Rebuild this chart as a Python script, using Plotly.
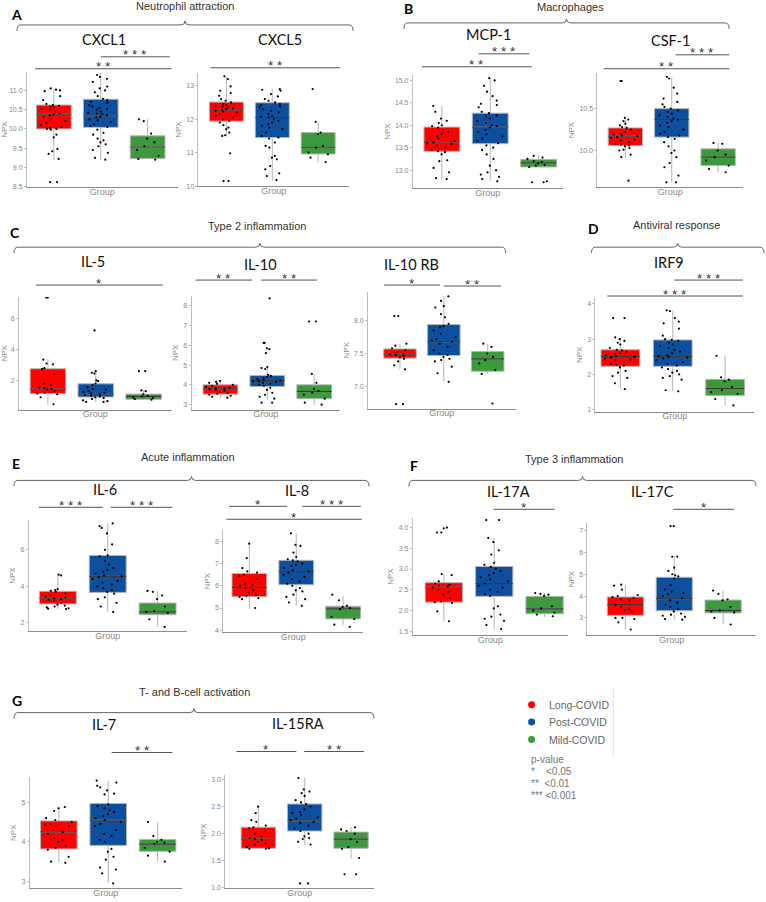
import plotly.graph_objects as go

W, H = 766, 902
GROUPS = ["Long-COVID", "Post-COVID", "Mild-COVID"]
COLORS = ["#FF0000", "#0B4F9E", "#3C9A3C"]

# ---------------- data: individual NPX values ----------------
CXCL1_long = [11.05, 11.02, 11.0, 10.98, 10.85, 10.75, 10.65, 10.62, 10.6, 10.58, 10.55, 10.52, 10.5, 10.45, 10.4, 10.38, 10.35, 10.3, 10.25, 10.2, 10.15, 10.1, 10.05, 10.02, 10.0, 10.0, 9.98, 9.85, 9.78, 9.48, 9.42, 9.35, 9.22, 8.62, 8.62]
CXCL1_post = [11.4, 11.35, 11.3, 11.22, 11.1, 11.05, 11.0, 10.95, 10.85, 10.78, 10.75, 10.7, 10.68, 10.62, 10.58, 10.55, 10.52, 10.5, 10.45, 10.42, 10.4, 10.38, 10.35, 10.32, 10.3, 10.25, 10.22, 10.18, 10.12, 10.08, 10.05, 9.98, 9.9, 9.85, 9.75, 9.7, 9.65, 9.6, 9.55, 9.45, 9.38, 9.25, 9.2]
CXCL1_mild = [10.25, 10.2, 9.88, 9.75, 9.65, 9.55, 9.45, 9.3, 9.22, 9.2]

CXCL5_long = [13.28, 13.2, 12.98, 12.85, 12.78, 12.7, 12.6, 12.55, 12.5, 12.45, 12.42, 12.4, 12.38, 12.35, 12.32, 12.3, 12.28, 12.25, 12.22, 12.2, 12.15, 12.1, 12.05, 12.0, 11.95, 11.9, 11.82, 11.75, 11.7, 11.6, 11.52, 11.5, 10.98, 10.15, 10.15]
CXCL5_post = [12.9, 12.88, 12.85, 12.75, 12.68, 12.6, 12.55, 12.5, 12.45, 12.42, 12.38, 12.35, 12.3, 12.25, 12.2, 12.15, 12.1, 12.08, 12.05, 12.0, 11.95, 11.9, 11.85, 11.8, 11.75, 11.7, 11.6, 11.5, 11.45, 11.42, 11.3, 11.2, 11.15, 10.9, 10.85, 10.8, 10.6, 10.5, 10.38, 10.3, 10.18]
CXCL5_mild = [12.9, 11.92, 11.6, 11.55, 11.2, 11.15, 11.0, 10.95, 10.85, 10.72]

MCP1_long = [14.43, 14.3, 14.15, 14.1, 14.05, 14.0, 13.98, 13.95, 13.9, 13.85, 13.8, 13.75, 13.72, 13.7, 13.65, 13.62, 13.6, 13.58, 13.55, 13.5, 13.45, 13.42, 13.4, 13.35, 13.22, 13.2, 13.05, 12.95, 12.82, 12.8]
MCP1_post = [15.05, 15.0, 14.88, 14.75, 14.65, 14.55, 14.48, 14.45, 14.4, 14.3, 14.27, 14.22, 14.2, 14.15, 14.1, 14.05, 14.0, 13.98, 13.95, 13.9, 13.85, 13.8, 13.75, 13.7, 13.65, 13.6, 13.55, 13.5, 13.45, 13.35, 13.25, 13.1, 13.0, 12.95, 12.9, 12.85, 12.8, 12.75]
MCP1_mild = [13.32, 13.28, 13.25, 13.2, 13.18, 13.15, 13.12, 13.1, 13.07, 12.73, 12.73, 12.75]

CSF1_long = [10.83, 10.83, 10.39, 10.37, 10.35, 10.32, 10.3, 10.28, 10.27, 10.25, 10.22, 10.2, 10.19, 10.18, 10.17, 10.16, 10.15, 10.13, 10.12, 10.1, 10.08, 10.07, 10.06, 10.05, 10.03, 10.01, 10.0, 9.95, 9.92, 9.64]
CSF1_post = [10.88, 10.86, 10.75, 10.68, 10.62, 10.58, 10.55, 10.52, 10.5, 10.48, 10.46, 10.44, 10.42, 10.4, 10.38, 10.37, 10.35, 10.33, 10.3, 10.28, 10.25, 10.22, 10.2, 10.18, 10.16, 10.14, 10.1, 10.05, 10.0, 9.97, 9.92, 9.85, 9.8, 9.7, 9.62, 9.62]
CSF1_mild = [10.09, 10.08, 10.0, 9.95, 9.92, 9.88, 9.82, 9.78, 9.74]

IL5_long = [7.4, 7.4, 3.35, 3.1, 3.05, 2.8, 2.75, 2.4, 1.8, 1.7, 1.55, 1.5, 1.45, 1.4, 1.3, 1.2, 1.15, 1.1, 0.9, 0.45]
IL5_post = [5.25, 2.6, 2.5, 2.45, 2.0, 1.95, 1.8, 1.7, 1.55, 1.45, 1.4, 1.3, 1.25, 1.2, 1.15, 1.1, 1.05, 1.0, 0.95, 0.9, 0.85, 0.8, 0.7, 0.65, 0.6, 0.6]
IL5_mild = [2.6, 2.6, 1.35, 1.3, 1.1, 1.0, 0.95, 0.9, 0.85, 0.8, 0.75]

IL10_long = [4.2, 4.15, 4.1, 4.05, 4.0, 3.95, 3.9, 3.85, 3.82, 3.8, 3.78, 3.75, 3.7, 3.65, 3.6, 3.55, 3.5, 3.45, 3.4, 3.35]
IL10_post = [8.37, 6.12, 6.12, 5.85, 5.8, 5.6, 4.9, 4.85, 4.8, 4.5, 4.45, 4.4, 4.35, 4.3, 4.25, 4.22, 4.2, 4.18, 4.15, 4.1, 4.05, 4.0, 3.95, 3.85, 3.75, 3.6, 3.5, 3.4, 3.3, 3.1, 3.1]
IL10_mild = [7.2, 7.2, 4.55, 4.1, 3.8, 3.7, 3.6, 3.5, 3.3, 3.1, 3.0]

IL10RB_long = [8.07, 8.07, 7.65, 7.62, 7.58, 7.55, 7.52, 7.5, 7.49, 7.48, 7.46, 7.44, 7.42, 7.38, 7.32, 7.26, 6.73, 6.73]
IL10RB_post = [8.37, 8.3, 8.22, 8.2, 8.1, 8.05, 7.95, 7.92, 7.9, 7.85, 7.8, 7.75, 7.72, 7.7, 7.68, 7.65, 7.6, 7.55, 7.5, 7.48, 7.45, 7.42, 7.4, 7.38, 7.3, 7.2, 7.07]
IL10RB_mild = [7.65, 7.6, 7.5, 7.45, 7.4, 7.35, 7.25, 7.19, 6.74]

IRF9_long = [3.6, 3.6, 3.05, 3.0, 2.95, 2.9, 2.85, 2.75, 2.7, 2.68, 2.65, 2.6, 2.58, 2.55, 2.52, 2.5, 2.48, 2.45, 2.42, 2.4, 2.35, 2.3, 2.28, 2.25, 2.2, 2.1, 2.05, 1.95, 1.9, 1.75, 1.58]
IRF9_post = [3.82, 3.8, 3.6, 3.5, 3.45, 3.3, 3.1, 3.0, 2.98, 2.95, 2.9, 2.85, 2.8, 2.75, 2.7, 2.65, 2.6, 2.55, 2.52, 2.5, 2.48, 2.45, 2.4, 2.35, 2.3, 2.25, 2.2, 2.15, 2.1, 2.05, 2.0, 1.95, 1.9, 1.85, 1.52, 1.55]
IRF9_mild = [2.53, 1.92, 1.85, 1.8, 1.65, 1.55, 1.5, 1.45, 1.3, 1.12]

IL6_long = [4.64, 4.6, 3.85, 3.8, 3.75, 3.7, 3.6, 3.5, 3.45, 3.4, 3.35, 3.3, 3.25, 3.2, 3.1, 3.0, 2.95, 2.9, 2.85, 2.8, 2.78, 2.76]
IL6_post = [7.45, 7.3, 7.2, 6.9, 6.3, 6.0, 5.7, 5.65, 5.4, 5.2, 5.0, 4.9, 4.8, 4.7, 4.6, 4.55, 4.5, 4.4, 4.3, 4.2, 4.1, 4.0, 3.9, 3.8, 3.7, 3.6, 3.4, 3.3, 3.1, 2.9, 2.6]
IL6_mild = [3.75, 3.7, 3.5, 3.3, 2.9, 2.65, 2.6, 2.55, 2.2, 1.78]

IL8_long = [7.9, 7.25, 6.8, 6.65, 6.6, 6.5, 6.45, 6.3, 6.1, 6.05, 6.0, 5.9, 5.8, 5.7, 5.6, 5.55, 5.5, 5.45, 5.4, 5.0]
IL8_post = [8.37, 7.85, 7.8, 7.5, 7.3, 7.2, 7.15, 7.1, 7.0, 6.95, 6.9, 6.8, 6.7, 6.65, 6.6, 6.5, 6.4, 6.3, 6.2, 6.1, 6.0, 5.9, 5.8, 5.75, 5.6, 5.5, 5.4, 5.25, 5.1]
IL8_mild = [5.6, 5.35, 5.1, 5.05, 5.0, 4.95, 4.6, 4.5, 4.25, 4.15]

IL17A_long = [4.0, 3.98, 3.88, 3.88, 2.88, 2.85, 2.7, 2.65, 2.62, 2.6, 2.58, 2.55, 2.5, 2.45, 2.38, 2.3, 2.22, 2.2, 2.18, 1.98, 1.74]
IL17A_post = [4.18, 4.18, 3.75, 3.65, 3.45, 3.35, 3.15, 3.1, 3.05, 3.0, 2.95, 2.9, 2.85, 2.8, 2.75, 2.7, 2.65, 2.6, 2.55, 2.5, 2.45, 2.4, 2.35, 2.1, 2.05, 1.9, 1.85, 1.8, 1.75, 1.65, 1.55]
IL17A_mild = [2.42, 2.4, 2.38, 2.35, 2.1, 2.05, 2.0, 1.95, 1.9, 1.86]

IL17C_long = [4.52, 4.48, 4.3, 4.05, 4.0, 3.95, 3.9, 3.85, 3.8, 3.6, 3.5, 3.4, 3.35, 3.3, 3.0, 3.0, 2.95, 2.8, 2.47]
IL17C_post = [7.2, 7.2, 5.81, 5.8, 5.3, 5.15, 5.0, 4.95, 4.9, 4.8, 4.5, 4.3, 4.2, 4.15, 4.1, 4.0, 3.9, 3.8, 3.7, 3.6, 3.5, 3.4, 3.3, 3.2, 3.15, 3.1, 3.05, 2.95, 2.92]
IL17C_mild = [4.25, 4.1, 3.85, 3.8, 3.5, 3.35, 3.3, 3.25, 3.0, 2.7]

IL7_long = [4.88, 4.85, 4.78, 4.6, 4.55, 4.5, 4.45, 4.42, 4.4, 4.3, 4.25, 4.2, 4.1, 4.05, 4.0, 3.9, 3.85, 3.8, 3.62, 3.5, 3.47]
IL7_post = [5.55, 5.5, 5.42, 5.38, 5.3, 5.22, 5.2, 4.95, 4.9, 4.85, 4.8, 4.75, 4.7, 4.65, 4.6, 4.55, 4.5, 4.45, 4.4, 4.3, 4.2, 4.15, 4.05, 4.0, 3.82, 3.75, 3.62, 3.55, 3.35, 3.3, 3.2, 2.95]
IL7_mild = [4.5, 4.15, 4.05, 4.0, 3.98, 3.95, 3.85, 3.75, 3.65, 3.5]

IL15RA_long = [2.5, 2.38, 2.25, 2.22, 2.15, 2.12, 2.1, 2.05, 2.0, 1.95, 1.92, 1.9, 1.88, 1.85, 1.82, 1.8, 1.75, 1.73, 1.72, 1.72]
IL15RA_post = [3.03, 2.82, 2.78, 2.75, 2.7, 2.62, 2.58, 2.55, 2.5, 2.45, 2.4, 2.38, 2.35, 2.3, 2.28, 2.25, 2.22, 2.2, 2.15, 2.1, 2.05, 2.0, 1.95, 1.92, 1.9, 1.85, 1.8, 1.08, 1.08]
IL15RA_mild = [2.12, 2.08, 2.05, 2.0, 1.9, 1.85, 1.75, 1.72, 1.55, 1.25, 1.25]

# ---------------- box statistics ----------------
# order: Long-COVID, Post-COVID, Mild-COVID
CXCL1_box = dict(q1=[10.0, 10.04, 9.23], med=[10.38, 10.34, 9.53], q3=[10.62, 10.77, 9.82], lo=[9.18, 9.18, 9.23], hi=[11.04, 11.45, 10.25])
CXCL5_box = dict(q1=[11.94, 11.45, 10.96], med=[12.27, 12.05, 11.16], q3=[12.51, 12.49, 11.6], lo=[11.5, 10.17, 10.71], hi=[13.26, 12.91, 11.92])
MCP1_box = dict(q1=[13.42, 13.59, 13.07], med=[13.63, 13.96, 13.16], q3=[13.96, 14.27, 13.24], lo=[12.8, 12.76, 13.07], hi=[14.43, 15.05, 13.33])
CSF1_box = dict(q1=[10.06, 10.16, 9.82], med=[10.17, 10.37, 9.92], q3=[10.27, 10.5, 10.02], lo=[9.91, 9.62, 9.74], hi=[10.39, 10.87, 10.09])
IL5_box = dict(q1=[1.14, 0.92, 0.77], med=[1.44, 1.13, 0.96], q3=[2.76, 1.78, 1.11], lo=[0.42, 0.6, 0.75], hi=[3.4, 2.6, 1.35])
IL10_box = dict(q1=[3.53, 3.92, 3.3], med=[3.8, 4.22, 3.67], q3=[4.0, 4.47, 4.0], lo=[3.33, 3.25, 3.0], hi=[4.2, 4.92, 4.57])
IL10RB_box = dict(q1=[7.43, 7.47, 7.23], med=[7.49, 7.68, 7.42], q3=[7.57, 7.94, 7.53], lo=[7.26, 7.07, 7.19], hi=[7.65, 8.37, 7.65])
IRF9_box = dict(q1=[2.23, 2.23, 1.4], med=[2.51, 2.51, 1.6], q3=[2.7, 2.98, 1.86], lo=[1.58, 1.52, 1.12], hi=[3.04, 3.81, 2.53])
IL6_box = dict(q1=[3.04, 3.67, 2.45], med=[3.36, 4.55, 2.6], q3=[3.73, 5.69, 3.09], lo=[2.76, 2.6, 1.82], hi=[4.64, 7.45, 3.73])
IL8_box = dict(q1=[5.51, 6.05, 4.51], med=[5.93, 6.65, 4.96], q3=[6.56, 7.15, 5.08], lo=[4.97, 5.11, 4.25], hi=[7.88, 8.37, 5.53])
IL17A_box = dict(q1=[2.2, 2.34, 1.92], med=[2.56, 2.65, 2.04], q3=[2.67, 3.06, 2.34], lo=[1.74, 1.54, 1.84], hi=[2.88, 3.74, 2.42])
IL17C_box = dict(q1=[3.12, 3.33, 3.23], med=[3.61, 3.88, 3.35], q3=[3.96, 4.86, 3.82], lo=[2.47, 2.92, 2.7], hi=[4.52, 5.81, 4.25])
IL7_box = dict(q1=[3.82, 3.91, 3.76], med=[4.25, 4.55, 3.94], q3=[4.53, 4.97, 4.06], lo=[3.47, 2.95, 3.5], hi=[4.88, 5.55, 4.5])
IL15RA_box = dict(q1=[1.73, 2.05, 1.73], med=[1.9, 2.24, 1.9], q3=[2.12, 2.55, 2.03], lo=[1.72, 1.79, 1.54], hi=[2.5, 3.04, 2.12])

# significance bars: (from, to, label) in group index units
CXCL1_sig = [(-0.40, 2.51, "**"), (1.0, 2.47, "***")]
CXCL5_sig = [(-0.35, 2.48, "**")]
MCP1_sig = [(-0.41, 1.86, "**"), (0.76, 1.81, "***")]
CSF1_sig = [(-0.47, 2.24, "**"), (1.08, 2.24, "***")]
IL5_sig = [(-0.25, 2.4, "*")]
IL10_sig = [(-0.53, 0.68, "**"), (0.87, 2.06, "**")]
IL10RB_sig = [(-0.36, 0.91, "*"), (1.0, 2.3, "**")]
IRF9_sig = [(-0.25, 2.34, "***"), (1.03, 2.34, "***")]
IL6_sig = [(-0.38, 0.9, "***"), (1.06, 2.3, "***")]
IL8_sig = [(-0.49, 2.4, "*"), (-0.43, 0.81, "*"), (1.13, 2.38, "***")]
IL17A_sig = [(0.99, 2.2, "*")]
IL17C_sig = [(0.98, 2.22, "*")]
IL7_sig = [(1.07, 2.3, "**")]
IL15RA_sig = [(-0.47, 0.82, "*"), (0.99, 2.28, "**")]

# ---------------- layout geometry (pixels) ----------------
PANELS = [
    ("CXCL1", [CXCL1_long, CXCL1_post, CXCL1_mild], CXCL1_box, CXCL1_sig, 25, 176, 52, 146, 72, 188, (11.0, 90.7), (8.5, 187.3), 0.5, ".1f", (102, 40), [69, 57]),
    ("CXCL5", [CXCL5_long, CXCL5_post, CXCL5_mild], CXCL5_box, CXCL5_sig, 197, 348, 225, 317, 73, 187, (13, 86), (10, 186.7), 1, "d", (279, 40), [68]),
    ("MCP-1", [MCP1_long, MCP1_post, MCP1_mild], MCP1_box, MCP1_sig, 412, 562, 441, 538, 75, 189, (15.0, 80.7), (13.0, 170.7), 0.5, ".1f", (488, 35), [67, 54]),
    ("CSF-1", [CSF1_long, CSF1_post, CSF1_mild], CSF1_box, CSF1_sig, 597, 743, 625, 718, 73, 188, (10.5, 109), (10.0, 151), 0.5, ".1f", (670, 41), [69, 55]),
    ("IL-5", [IL5_long, IL5_post, IL5_mild], IL5_box, IL5_sig, 17, 170, 46, 142, 298, 411, (6, 320), (2, 381.7), 2, "d", (91, 262), [286]),
    ("IL-10", [IL10_long, IL10_post, IL10_mild], IL10_box, IL10_sig, 190, 339, 219, 313, 297, 411, (8, 306.7), (3, 406), 1, "d", (259, 265), [281, 281]),
    ("IL-10 RB", [IL10RB_long, IL10RB_post, IL10RB_mild], IL10RB_box, IL10RB_sig, 367, 515, 399, 487, 293, 410, (8.0, 321.7), (7.0, 387.7), 0.5, ".1f", (411, 265), [286, 287]),
    ("IRF9", [IRF9_long, IRF9_post, IRF9_mild], IRF9_box, IRF9_sig, 595, 754, 620, 725, 299, 413, (4, 305), (1, 411), 1, "d", (669, 263), [297, 281]),
    ("IL-6", [IL6_long, IL6_post, IL6_mild], IL6_box, IL6_sig, 27, 185, 56, 156, 522, 633, (6, 551.7), (2, 625), 2, "d", (103, 491), [509, 509]),
    ("IL-8", [IL8_long, IL8_post, IL8_mild], IL8_box, IL8_sig, 222, 362, 248, 342, 532, 634, (8, 543.3), (4, 632.3), 1, "d", (296, 492), [521, 508, 508]),
    ("IL-17A", [IL17A_long, IL17A_post, IL17A_mild], IL17A_box, IL17A_sig, 412, 567, 443, 544, 520, 637, (4.0, 529.3), (1.5, 633.3), 0.5, ".1f", (508, 493), [511]),
    ("IL-17C", [IL17C_long, IL17C_post, IL17C_mild], IL17C_box, IL17C_sig, 587, 756, 625, 723, 525, 637, (7, 532.3), (3, 620), 1, "d", (652, 493), [511]),
    ("IL-7", [IL7_long, IL7_post, IL7_mild], IL7_box, IL7_sig, 28, 180, 57, 156, 780, 891, (5, 805), (3, 884.3), 1, "d", (102, 727), [755]),
    ("IL-15RA", [IL15RA_long, IL15RA_post, IL15RA_mild], IL15RA_box, IL15RA_sig, 224, 373, 257, 350, 778, 891, (3.0, 782.3), (1.0, 890.7), 0.5, ".1f", (297, 726), [754, 754]),
]

SECTIONS = [
    ("A", (7, 15), "Neutrophil attraction", (183, 6), (15, 352, 25)),
    ("B", (401, 9), "Macrophages", (570, 7), (403, 729, 23)),
    ("C", (6, 233), "Type 2 inflammation", (256, 227), (12, 505, 248)),
    ("D", (586, 229), "Antiviral response", (676, 226), (591, 764, 248)),
    ("E", (8, 465), "Acute inflammation", (186, 459), (12, 368, 482)),
    ("F", (407, 467), "Type 3 inflammation", (573, 461), (408, 756, 482)),
    ("G", (8, 703), "T- and B-cell activation", (193, 694), (12, 373, 715)),
]

PVALUE_LINES = ["p-value", "*    <0.05", "**  <0.01", "*** <0.001"]

BOXW = 0.74
FONT = "Liberation Sans, Arial, sans-serif"
TITLE_FONT = "Lato, Open Sans, sans-serif"


def px(x):
    return x / W


def py(y):
    return 1 - y / H


fig = go.Figure()
layout = dict(width=W, height=H, margin=dict(l=0, r=0, t=0, b=0),
              paper_bgcolor="white", plot_bgcolor="white", showlegend=False,
              boxmode="overlay", font=dict(family=FONT))
shapes, annots = [], []

for n, (name, pts, st, sig, x0, x1, c0, c2, yt, yb, t1, t2, dtick, fmt, tpos, sigy) in enumerate(PANELS, start=1):
    sfx = "" if n == 1 else str(n)
    xa, ya = "x" + sfx, "y" + sfx
    s = (c2 - c0) / 2.0
    xr = [-(c0 - x0) / s, 2 + (x1 - c2) / s]
    k = (t1[0] - t2[0]) / (t2[1] - t1[1])
    yr = [t2[0] - (yb - t2[1]) * k, t1[0] + (t1[1] - yt) * k]
    layout["xaxis" + sfx] = dict(domain=[px(x0), px(x1)], range=xr, anchor=ya,
                                 showline=True, linecolor="#8c8c8c", linewidth=1,
                                 showticklabels=False, ticks="", showgrid=False, zeroline=False,
                                 title=dict(text="Group", font=dict(size=9, color="#8a8a8a"), standoff=1))
    layout["yaxis" + sfx] = dict(domain=[py(yb), py(yt)], range=yr, anchor=xa,
                                 showline=True, linecolor="#bdbdbd", linewidth=1,
                                 dtick=dtick, tick0=0, tickformat=fmt, ticks="outside", ticklen=2,
                                 tickcolor="#bdbdbd", tickfont=dict(size=7, color="#8a8a8a"),
                                 showgrid=False, zeroline=False,
                                 title=dict(text="NPX", font=dict(size=8, color="#8a8a8a"), standoff=3))
    for i in range(3):
        fig.add_trace(go.Box(x=[i], q1=[st["q1"][i]], median=[st["med"][i]], q3=[st["q3"][i]],
                             lowerfence=[st["lo"][i]], upperfence=[st["hi"][i]],
                             width=BOXW, whiskerwidth=0, fillcolor=COLORS[i],
                             line=dict(color="#b5b5b5", width=1), boxpoints=False,
                             xaxis=xa, yaxis=ya, hoverinfo="skip", name=GROUPS[i]))
        m = st["med"][i]
        fig.add_trace(go.Box(x=[i], q1=[m], median=[m], q3=[m], lowerfence=[m], upperfence=[m],
                             width=BOXW, whiskerwidth=0, fillcolor="rgba(0,0,0,0)",
                             line=dict(color="#3a3a3a", width=1.2), boxpoints=False,
                             xaxis=xa, yaxis=ya, hoverinfo="skip", name=GROUPS[i]))
    for i in range(3):
        fig.add_trace(go.Box(x=[i] * len(pts[i]), y=pts[i], width=BOXW, boxpoints="all",
                             jitter=0.85, pointpos=0, fillcolor="rgba(0,0,0,0)",
                             line=dict(color="rgba(0,0,0,0)", width=0),
                             marker=dict(size=2.2, color="black"),
                             xaxis=xa, yaxis=ya, hoverinfo="y", name=GROUPS[i]))
    annots.append(dict(x=px(tpos[0]), y=py(tpos[1]), xref="paper", yref="paper", text=name,
                       showarrow=False, xanchor="center", yanchor="middle",
                       font=dict(family=TITLE_FONT, size=14.5, color="#111")))
    for (u0, u1, lab), yy in zip(sig, sigy):
        shapes.append(dict(type="line", xref=xa, yref="paper", x0=u0, x1=u1, y0=py(yy), y1=py(yy),
                           line=dict(color="#555", width=1)))
        annots.append(dict(x=(u0 + u1) / 2, y=py(yy - 2), xref=xa, yref="paper", text=" ".join(lab),
                           showarrow=False, xanchor="center", yanchor="middle",
                           font=dict(family=FONT, size=13.5, color="#333")))

for letter, lpos, title, tpos, (bx0, bx1, by) in SECTIONS:
    annots.append(dict(x=px(lpos[0]), y=py(lpos[1]), xref="paper", yref="paper", text="<b>%s</b>" % letter,
                       showarrow=False, xanchor="left", yanchor="middle",
                       font=dict(family=TITLE_FONT, size=14, color="#000")))
    annots.append(dict(x=px(tpos[0]), y=py(tpos[1]), xref="paper", yref="paper", text=title,
                       showarrow=False, xanchor="center", yanchor="middle",
                       font=dict(family=FONT, size=11, color="#333")))
    cx = (bx0 + bx1) / 2
    pth = ("M {a},{b} Q {a},{c} {d},{c} L {e},{c} Q {cx},{c} {cx},{f} Q {cx},{c} {g},{c} L {h},{c} Q {i},{c} {i},{b}"
           .format(a=px(bx0), b=py(by + 6), c=py(by), d=px(bx0 + 4), e=px(cx - 4), cx=px(cx), f=py(by - 4),
                   g=px(cx + 4), h=px(bx1 - 4), i=px(bx1)))
    shapes.append(dict(type="path", xref="paper", yref="paper", path=pth,
                       line=dict(color="#666", width=1)))

for i, g in enumerate(GROUPS):
    yy = 707 + i * 17.5
    shapes.append(dict(type="circle", xref="paper", yref="paper", x0=px(527.5), x1=px(534.5),
                       y0=py(yy + 3.5), y1=py(yy - 3.5), fillcolor=COLORS[i], line=dict(width=0)))
    annots.append(dict(x=px(546), y=py(yy), xref="paper", yref="paper", text=g, showarrow=False,
                       xanchor="left", yanchor="middle", font=dict(size=10.5, color="#666")))
shapes.append(dict(type="line", xref="paper", yref="paper", x0=px(613), x1=px(613), y0=py(690), y1=py(757),
                   line=dict(color="#e2e2e2", width=1)))
for j, t in enumerate(PVALUE_LINES):
    annots.append(dict(x=px(528), y=py(762 + j * 12), xref="paper", yref="paper", text=t.replace(" ", "&nbsp;"),
                       showarrow=False, xanchor="left", yanchor="middle", font=dict(size=10, color="#777")))

layout["shapes"] = shapes
layout["annotations"] = annots
fig.update_layout(**layout)
fig.write_html("out.html")
